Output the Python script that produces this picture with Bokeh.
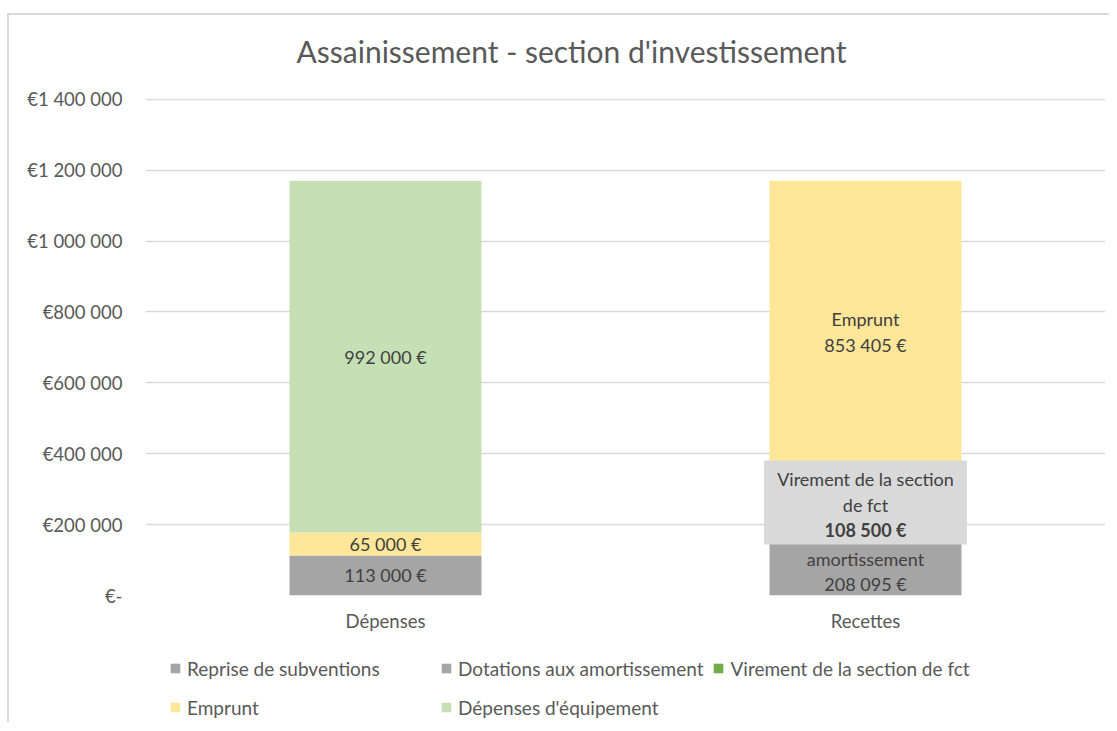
from bokeh.plotting import figure
from bokeh.layouts import column
from bokeh.models import Legend, LegendItem, FixedTicker, ColumnDataSource, Range1d
from bokeh.core.properties import value
from bokeh.embed import file_html
from bokeh.resources import INLINE

categories = ["Dépenses", "Recettes"]
series_names = ["Reprise de subventions", "Dotations aux amortissement",
                "Virement de la section de fct", "Emprunt", "Dépenses d'équipement"]
reprise = [113000, 0]
dotations = [0, 208095]
virement = [0, 108500]
emprunt = [65000, 853405]
equipement = [992000, 0]
series_colors = ["#A5A5A5", "#A5A5A5", "#70AD47", "#FFE699", "#C5E0B4"]
y_ticks = [0, 200000, 400000, 600000, 800000, 1000000, 1200000, 1400000]
y_tick_labels = ["€-", "€200 000", "€400 000", "€600 000", "€800 000",
                 "€1 000 000", "€1 200 000", "€1 400 000"]

FONT = "Lato"
TXT = "#404040"
AX = "#595959"

def eur(v):
    return f"{v:,}".replace(",", " ") + " €"

keys = ["s0", "s1", "s2", "s3", "s4"]
data = {"cat": categories, "s0": reprise, "s1": dotations, "s2": virement,
        "s3": emprunt, "s4": equipement}
src = ColumnDataSource(data)

p = figure(x_range=categories, y_range=(0, 1402000), width=1109, height=634,
           output_backend="svg", toolbar_location=None,
           min_border_left=145, min_border_right=4, min_border_top=98,
           min_border_bottom=38)
p.outline_line_color = None
p.border_fill_color = None

renderers = p.vbar_stack(keys, x="cat", width=0.4, source=src,
                         color=series_colors, line_color=None)

# labels
cum = [0, 0]
segs = [reprise, dotations, virement, emprunt, equipement]
centers = []
for s in segs:
    centers.append([cum[i] + s[i] / 2 for i in range(2)])
    cum = [cum[i] + s[i] for i in range(2)]

lab_kw = dict(text_align="center", text_baseline="middle", text_color=TXT,
              text_font=value(FONT), text_font_size="18px", text_line_height=1.15)

p.text(x=[categories[0]] * 3,
       y=[centers[0][0], centers[3][0], centers[4][0]],
       text=[eur(reprise[0]), eur(emprunt[0]), eur(equipement[0])], **lab_kw)
p.text(x=[categories[1]], y=[centers[1][1]],
       text=["Dotations aux\namortissement\n" + eur(dotations[1])], **lab_kw)
p.text(x=[categories[1]], y=[centers[3][1]],
       text=["Emprunt\n" + eur(emprunt[1])], **lab_kw)
p.rect(x=[categories[1]], y=[centers[2][1]], width=0.423, height=84,
       height_units="screen", fill_color="#D9D9D9", line_color=None)
p.text(x=[categories[1]], y=[centers[2][1]],
       text=["Virement de la section\nde fct"], y_offset=-10.5, **lab_kw)
p.text(x=[categories[1]], y=[centers[2][1]],
       text=[eur(virement[1])], y_offset=27, text_font_style="bold", **lab_kw)

# axes
p.yaxis.ticker = FixedTicker(ticks=y_ticks)
p.yaxis.major_label_overrides = {t: l for t, l in zip(y_ticks, y_tick_labels)}
for ax in (p.xaxis[0], p.yaxis[0]):
    ax.axis_line_color = None
    ax.major_tick_line_color = None
    ax.minor_tick_line_color = None
    ax.major_tick_out = 0
    ax.major_tick_in = 0
    ax.major_label_text_font = FONT
    ax.major_label_text_font_size = "18.5px"
    ax.major_label_text_color = AX
p.yaxis.major_label_standoff = 23
p.xaxis.major_label_standoff = 14
p.xgrid.grid_line_color = None
p.ygrid.grid_line_color = "#D9D9D9"
p.ygrid.grid_line_width = 1.3

# title
p.title.text = "Assainissement - section d'investissement"
p.title.text_font = FONT
p.title.text_font_size = "30px"
p.title.text_font_style = "normal"
p.title.text_color = AX
p.title.align = "left"
p.title.offset = 151
p.title.standoff = 59

# legend strip (proxy renderers of zero height carry the legend swatches)
pl = figure(width=1109, height=88, output_backend="svg", toolbar_location=None,
            x_range=Range1d(0, 1), y_range=Range1d(0, 1),
            x_axis_location=None, y_axis_location=None,
            min_border_left=0, min_border_right=0, min_border_top=0,
            min_border_bottom=0)
pl.outline_line_color = None
pl.border_fill_color = None
pl.background_fill_color = None
pl.xgrid.grid_line_color = None
pl.ygrid.grid_line_color = None
proxy = ColumnDataSource(dict(x=[0.0], top=[0.0], bottom=[0.0]))
leg_rs = [pl.vbar(x="x", top="top", bottom="bottom", width=0.0, source=proxy,
                  color=c, line_color=None) for c in series_colors]
items = [LegendItem(label=n, renderers=[r]) for n, r in zip(series_names, leg_rs)]
legend = Legend(items=items, ncols=3, orientation="horizontal",
                label_text_font=FONT, label_text_font_size="19px",
                label_text_color=AX, glyph_width=12, glyph_height=12,
                label_standoff=6, spacing=9, padding=0, margin=0,
                label_width=244, label_height=30, border_line_color=None,
                background_fill_alpha=0, location=(24, 0))
pl.add_layout(legend, "center")

layout = column(p, pl, spacing=0)
layout.styles = {
    "background": "linear-gradient(#D9D9D9,#D9D9D9) 7px 13px / 2px 100% no-repeat, "
                  "linear-gradient(#D9D9D9,#D9D9D9) 7px 13px / 100% 2px no-repeat, #FFFFFF"
}

open("out.html", "w").write(file_html(layout, INLINE))
